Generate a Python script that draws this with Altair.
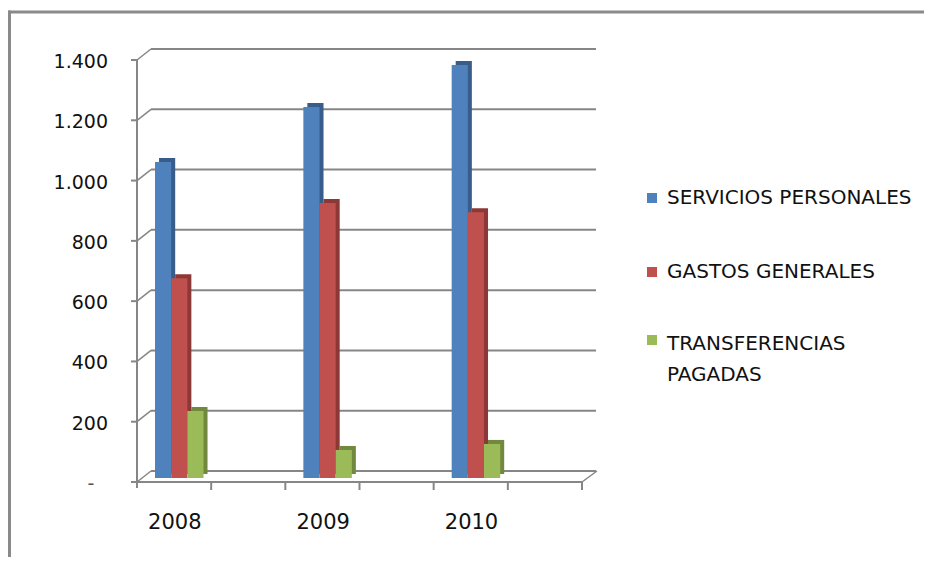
import altair as alt
import pandas as pd

years = ["2008", "2009", "2010"]
series = ["SERVICIOS PERSONALES", "GASTOS GENERALES", "TRANSFERENCIAS PAGADAS"]
servicios = [1048, 1231, 1370]
gastos = [663, 912, 882]
transferencias = [222, 93, 113]
front_colors = ["#4F81BD", "#C0504D", "#9BBB59"]
side_colors = ["#385D8A", "#8C3836", "#71893F"]
tick_values = [200, 400, 600, 800, 1000, 1200, 1400]
tick_labels = ["200", "400", "600", "800", "1.000", "1.200", "1.400"]
legend_lines = [["SERVICIOS PERSONALES"], ["GASTOS GENERALES"], ["TRANSFERENCIAS", "PAGADAS"]]

FONT = "DejaVu Sans"
GRID = "#868686"

xs = alt.Scale(domain=[0, 6], range=[129, 574])
ys = alt.Scale(domain=[0, 1400], range=[474, 52])

rows = []
values = [servicios, gastos, transferencias]
bw = 0.218
for i, y in enumerate(years):
    for j, s in enumerate(series):
        x0 = 2 * i + 0.243 + j * bw
        rows.append({"year": y, "series": s, "value": values[j][i],
                     "x0": x0, "x1": x0 + bw, "k": j})
bars = pd.DataFrame(rows)

color_front = alt.Color("series:N", scale=alt.Scale(domain=series, range=front_colors), legend=None)
color_side = alt.Color("series:N", scale=alt.Scale(domain=series, range=side_colors), legend=None)

one = pd.DataFrame({"a": [0]})
frame_top = alt.Chart(one).mark_rule(color="#8a8a8a", strokeWidth=3).encode(
    x=alt.value(0), x2=alt.value(916), y=alt.value(4))
frame_left = alt.Chart(one).mark_rule(color="#8a8a8a", strokeWidth=3).encode(
    x=alt.value(1.5), y=alt.value(2.5), y2=alt.value(549))

grid_df = pd.DataFrame({"v": [0] + tick_values, "xa": 0.0, "xb": 6.0})
back_grid = alt.Chart(grid_df).mark_rule(color=GRID, strokeWidth=2, xOffset=14, x2Offset=14,
                                         yOffset=-11).encode(
    x=alt.X("xa:Q", scale=xs, axis=None), x2="xb:Q",
    y=alt.Y("v:Q", scale=ys, axis=None))
connectors = alt.Chart(grid_df).mark_rule(color=GRID, strokeWidth=1.5, x2Offset=14, y2Offset=-11).encode(
    x=alt.X("xa:Q", scale=xs, axis=None), x2="xa:Q",
    y=alt.Y("v:Q", scale=ys, axis=None), y2="v:Q")
left_ticks = alt.Chart(grid_df).mark_rule(color=GRID, strokeWidth=2, xOffset=-6).encode(
    x=alt.X("xa:Q", scale=xs, axis=None), x2="xa:Q",
    y=alt.Y("v:Q", scale=ys, axis=None))

axis_df = pd.DataFrame({"xa": [0.0], "xb": [6.0], "y0": [0], "y1": [1400]})
left_axis = alt.Chart(axis_df).mark_rule(color=GRID, strokeWidth=2, y2Offset=6).encode(
    x=alt.X("xa:Q", scale=xs, axis=None),
    y=alt.Y("y1:Q", scale=ys, axis=None), y2="y0:Q")
floor_front = alt.Chart(axis_df).mark_rule(color=GRID, strokeWidth=2, xOffset=-6).encode(
    x=alt.X("xa:Q", scale=xs, axis=None), x2="xb:Q",
    y=alt.Y("y0:Q", scale=ys, axis=None))
floor_right = alt.Chart(axis_df).mark_rule(color=GRID, strokeWidth=1.5, x2Offset=15, y2Offset=-11).encode(
    x=alt.X("xb:Q", scale=xs, axis=None), x2="xb:Q",
    y=alt.Y("y0:Q", scale=ys, axis=None), y2="y0:Q")
bt_df = pd.DataFrame({"t": [1, 2, 3, 4, 5, 6], "z": 0})
bottom_ticks = alt.Chart(bt_df).mark_rule(color=GRID, strokeWidth=2, y2Offset=8).encode(
    x=alt.X("t:Q", scale=xs, axis=None),
    y=alt.Y("z:Q", scale=ys, axis=None), y2="z:Q")

bar_side = alt.Chart(bars).mark_rect(xOffset=4, x2Offset=4, yOffset=-8, y2Offset=-8).encode(
    x=alt.X("x0:Q", scale=xs, axis=None), x2="x1:Q",
    y=alt.Y("value:Q", scale=ys, axis=None), y2=alt.datum(0),
    color=color_side)
bar_front = alt.Chart(bars).mark_rect(yOffset=-4, y2Offset=-4).encode(
    x=alt.X("x0:Q", scale=xs, axis=None), x2="x1:Q",
    y=alt.Y("value:Q", scale=ys, axis=None), y2=alt.datum(0),
    color=color_front)

tl_df = pd.DataFrame({"v": tick_values, "label": tick_labels})
tick_text = alt.Chart(tl_df).mark_text(font=FONT, fontSize=19, align="right", baseline="middle",
                                       dy=2, color="#111").encode(
    x=alt.value(100), y=alt.Y("v:Q", scale=ys, axis=None), text="label:N")
zero_text = alt.Chart(pd.DataFrame({"v": [0], "label": ["-"]})).mark_text(
    font=FONT, fontSize=19, align="center", baseline="middle", dy=2, color="#555").encode(
    x=alt.value(83), y=alt.Y("v:Q", scale=ys, axis=None), text="label:N")

yr_df = pd.DataFrame({"year": years, "xc": [2 * i + 0.51 for i in range(len(years))]})
year_text = alt.Chart(yr_df).mark_text(font=FONT, fontSize=21, align="center", baseline="middle",
                                       color="#111").encode(
    x=alt.X("xc:Q", scale=xs, axis=None), y=alt.value(515), text="year:N")

leg_sq = pd.DataFrame({"series": series, "py": [190, 264, 332]})
legend_sq = alt.Chart(leg_sq).mark_square(size=100, opacity=1).encode(
    x=alt.value(644), y=alt.Y("py:Q", scale=None), color=color_front)
lt_rows = []
base_y = [190, 264, 336]
for i, lines in enumerate(legend_lines):
    for k, t in enumerate(lines):
        lt_rows.append({"t": t, "py": base_y[i] + 31 * k})
legend_text = alt.Chart(pd.DataFrame(lt_rows)).mark_text(
    font=FONT, fontSize=20, align="left", baseline="middle", color="#111").encode(
    x=alt.value(659), y=alt.Y("py:Q", scale=None), text="t:N")

chart = alt.layer(
    frame_top, frame_left, back_grid, connectors, left_ticks, left_axis, floor_front, floor_right,
    bottom_ticks, bar_side, bar_front, tick_text, zero_text, year_text, legend_sq, legend_text
).properties(
    width=916, height=549,
    autosize=alt.AutoSizeParams(type="none"),
    padding={"left": 0, "top": 0, "right": 0, "bottom": 0},
).configure_view(stroke=None).resolve_scale(color="independent")

chart.save("out.html", embed_options={"renderer": "svg", "actions": False})
